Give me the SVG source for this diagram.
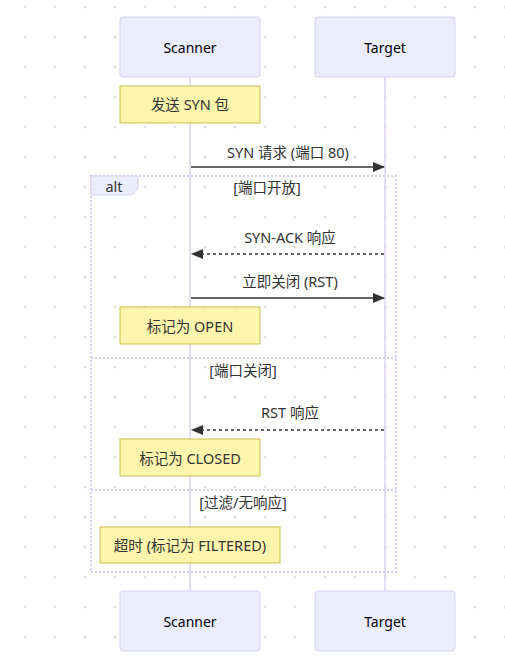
<svg xmlns="http://www.w3.org/2000/svg" width="505" height="665" viewBox="0 0 505 665">
<style>
text{font-family:"Noto Sans","Trebuchet MS","Noto Sans CJK SC",sans-serif;font-size:14.5px;text-anchor:middle;dominant-baseline:central}
.actor rect{fill:#ececff;stroke:#d9cff3;stroke-width:1}
.actor text{fill:#000;font-size:14px}
.life{stroke:#dcd2f3;stroke-width:1.5}
.note rect{fill:#fff5ad;stroke:#c8c050;stroke-width:1}
.note text{fill:#333}
.msg{stroke:#333;stroke-width:1.5;fill:none}
.dash{stroke-dasharray:3,3}
.mtext{fill:#333}
.loop{stroke:#d9cff3;stroke-width:2;stroke-dasharray:2,2;fill:none}
.lbox{fill:#ececff;stroke:#d9cff3;stroke-width:1}
.ltext{fill:#333}
</style>
<defs>
<pattern id="dots" x="10" y="-8" width="30" height="30" patternUnits="userSpaceOnUse">
<circle cx="15" cy="15" r="1.6" fill="#e3e3e3"/>
</pattern>
<marker id="arr" viewBox="0 0 12 10" refX="11" refY="5" markerWidth="12" markerHeight="10" markerUnits="userSpaceOnUse" orient="auto">
<path d="M0,0 L12,5 L0,10 z" fill="#333"/>
</marker>
</defs>
<rect width="505" height="665" fill="#fff"/>
<rect width="505" height="665" fill="url(#dots)"/>
<g id="lifelines">
<line class="life" x1="190" y1="77" x2="190" y2="591"/>
<line class="life" x1="385" y1="77" x2="385" y2="591"/>
</g>
<g id="actor-scanner-top" class="actor"><rect x="120" y="17" width="140" height="60" rx="3"/><text x="190" y="47">Scanner</text></g>
<g id="actor-target-top" class="actor"><rect x="315" y="17" width="140" height="60" rx="3"/><text x="385" y="47">Target</text></g>
<g id="actor-scanner-bottom" class="actor"><rect x="120" y="591" width="140" height="60" rx="3"/><text x="190" y="621">Scanner</text></g>
<g id="actor-target-bottom" class="actor"><rect x="315" y="591" width="140" height="60" rx="3"/><text x="385" y="621">Target</text></g>
<g id="alt-frame">
<rect class="loop" x="91" y="176" width="305" height="396"/>
<line class="loop" x1="91" y1="358" x2="396" y2="358"/>
<line class="loop" x1="91" y1="490" x2="396" y2="490"/>
<polygon class="lbox" points="91,176 138,176 138,189 132,195 91,195"/>
<text class="ltext" x="114" y="186">alt</text>
<text class="ltext" x="267" y="187">[端口开放]</text>
<text class="ltext" x="243" y="370">[端口关闭]</text>
<text class="ltext" x="243" y="502">[过滤/无响应]</text>
</g>
<g id="note-send" class="note"><rect x="120" y="86" width="140" height="37"/><text x="190" y="104">发送 SYN 包</text></g>
<g id="note-open" class="note"><rect x="120" y="307" width="140" height="37"/><text x="190" y="326">标记为 OPEN</text></g>
<g id="note-closed" class="note"><rect x="120" y="439" width="140" height="37"/><text x="190" y="458">标记为 CLOSED</text></g>
<g id="note-filtered" class="note"><rect x="100" y="527" width="180" height="36"/><text x="190" y="545">超时 (标记为 FILTERED)</text></g>
<g id="connectors">
<line class="msg" x1="191" y1="167" x2="384" y2="167" marker-end="url(#arr)"/>
<text class="mtext" x="288" y="152">SYN 请求 (端口 80)</text>
<line class="msg dash" x1="384" y1="254" x2="192" y2="254" marker-end="url(#arr)"/>
<text class="mtext" x="290" y="237">SYN-ACK 响应</text>
<line class="msg" x1="191" y1="298" x2="384" y2="298" marker-end="url(#arr)"/>
<text class="mtext" x="290" y="281">立即关闭 (RST)</text>
<line class="msg dash" x1="384" y1="430" x2="192" y2="430" marker-end="url(#arr)"/>
<text class="mtext" x="290" y="412">RST 响应</text>
</g>
</svg>
